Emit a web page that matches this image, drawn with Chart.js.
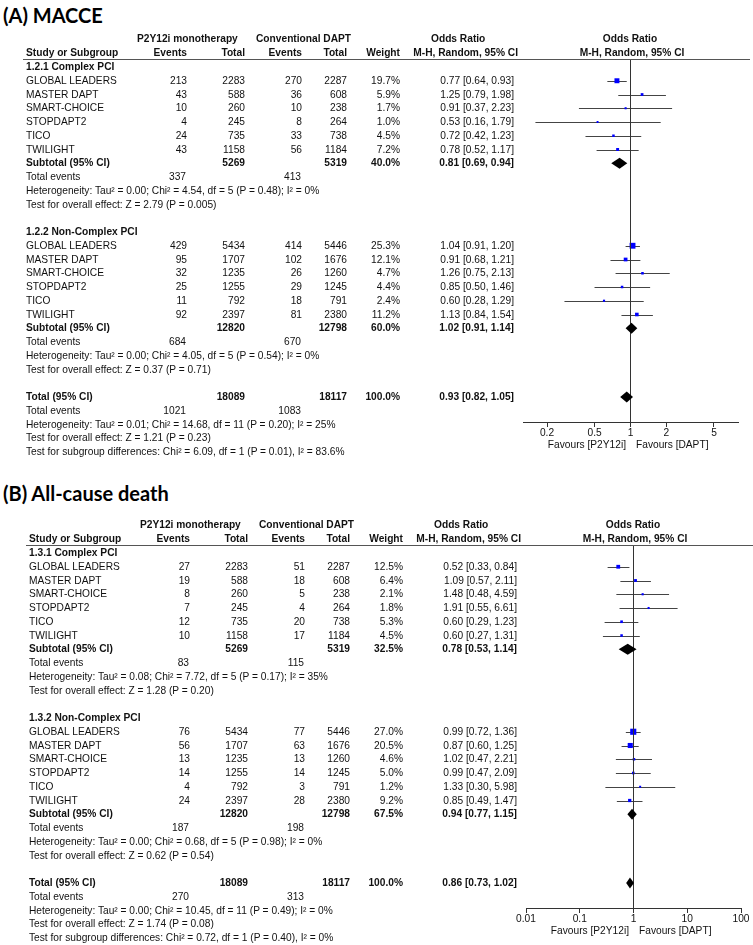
<!DOCTYPE html>
<html lang="en">
<head>
<meta charset="UTF-8">
<script src="https://cdn.jsdelivr.net/npm/chart.js"></script>
<title>Forest plots - MACCE and all-cause death</title>
<style>
  * { margin: 0; padding: 0; }
  body { width: 753px; height: 945px; background: #fff; position: relative; overflow: hidden;
         font-family: "Liberation Sans", Arial, sans-serif; color: #111; }
  .panel { position: absolute; left: 0; width: 753px; height: 470px; }
  .panel canvas { position: absolute; left: 0; top: 0; }
  .t { position: absolute; font-size: 10.2px; line-height: 12px; white-space: nowrap; }
  .b { font-weight: bold; }
  .ttl { position: absolute; left: 3px; font-family: Lato, "Open Sans", sans-serif; font-weight: bold;
         font-size: 20px; line-height: 24px; color: #000; white-space: nowrap; }
  .rule { position: absolute; left: 23px; width: 727px; height: 0; border-top: 1px solid #555; }
</style>
</head>
<body>
<div class="ttl" style="top:3px">(A) MACCE</div>
<div class="ttl" style="top:481px">(B) All-cause death</div>
<div class="panel" id="pA" style="top:0px"><canvas id="cA" width="753" height="470"></canvas></div>
<div class="panel" id="pB" style="top:486px;left:3px"><canvas id="cB" width="753" height="470"></canvas></div>

<script>
  const studies = ['GLOBAL LEADERS', 'MASTER DAPT', 'SMART-CHOICE', 'STOPDAPT2', 'TICO', 'TWILIGHT'];

  // (A) MACCE - first 6 entries complex PCI, last 6 non-complex PCI
  const macceGroups = ['1.2.1 Complex PCI', '1.2.2 Non-Complex PCI'];
  const macceEvMono = [213, 43, 10, 4, 24, 43, 429, 95, 32, 25, 11, 92];
  const macceTotMono = [2283, 588, 260, 245, 735, 1158, 5434, 1707, 1235, 1255, 792, 2397];
  const macceEvDapt = [270, 36, 10, 8, 33, 56, 414, 102, 26, 29, 18, 81];
  const macceTotDapt = [2287, 608, 238, 264, 738, 1184, 5446, 1676, 1260, 1245, 791, 2380];
  const macceWeight = [19.7, 5.9, 1.7, 1.0, 4.5, 7.2, 25.3, 12.1, 4.7, 4.4, 2.4, 11.2];
  const macceOR = [0.77, 1.25, 0.91, 0.53, 0.72, 0.78, 1.04, 0.91, 1.26, 0.85, 0.60, 1.13];
  const macceLo = [0.64, 0.79, 0.37, 0.16, 0.42, 0.52, 0.91, 0.68, 0.75, 0.50, 0.28, 0.84];
  const macceHi = [0.93, 1.98, 2.23, 1.79, 1.23, 1.17, 1.20, 1.21, 2.13, 1.46, 1.29, 1.54];
  // summaries: subgroup 1, subgroup 2, overall
  const macceSumTotMono = [5269, 12820, 18089];
  const macceSumTotDapt = [5319, 12798, 18117];
  const macceSumEvMono = [337, 684, 1021];
  const macceSumEvDapt = [413, 670, 1083];
  const macceSumWeight = [40.0, 60.0, 100.0];
  const macceSumOR = [0.81, 1.02, 0.93];
  const macceSumLo = [0.69, 0.91, 0.82];
  const macceSumHi = [0.94, 1.14, 1.05];
  const macceHet = ['Tau² = 0.00; Chi² = 4.54, df = 5 (P = 0.48); I² = 0%',
                    'Tau² = 0.00; Chi² = 4.05, df = 5 (P = 0.54); I² = 0%',
                    'Tau² = 0.01; Chi² = 14.68, df = 11 (P = 0.20); I² = 25%'];
  const macceZ = ['Z = 2.79 (P = 0.005)', 'Z = 0.37 (P = 0.71)', 'Z = 1.21 (P = 0.23)'];
  const macceSubDiff = 'Chi² = 6.09, df = 1 (P = 0.01), I² = 83.6%';
  const macceTicks = [0.2, 0.5, 1, 2, 5];

  // (B) All-cause death
  const deathGroups = ['1.3.1 Complex PCI', '1.3.2 Non-Complex PCI'];
  const deathEvMono = [27, 19, 8, 7, 12, 10, 76, 56, 13, 14, 4, 24];
  const deathTotMono = [2283, 588, 260, 245, 735, 1158, 5434, 1707, 1235, 1255, 792, 2397];
  const deathEvDapt = [51, 18, 5, 4, 20, 17, 77, 63, 13, 14, 3, 28];
  const deathTotDapt = [2287, 608, 238, 264, 738, 1184, 5446, 1676, 1260, 1245, 791, 2380];
  const deathWeight = [12.5, 6.4, 2.1, 1.8, 5.3, 4.5, 27.0, 20.5, 4.6, 5.0, 1.2, 9.2];
  const deathOR = [0.52, 1.09, 1.48, 1.91, 0.60, 0.60, 0.99, 0.87, 1.02, 0.99, 1.33, 0.85];
  const deathLo = [0.33, 0.57, 0.48, 0.55, 0.29, 0.27, 0.72, 0.60, 0.47, 0.47, 0.30, 0.49];
  const deathHi = [0.84, 2.11, 4.59, 6.61, 1.23, 1.31, 1.36, 1.25, 2.21, 2.09, 5.98, 1.47];
  const deathSumTotMono = [5269, 12820, 18089];
  const deathSumTotDapt = [5319, 12798, 18117];
  const deathSumEvMono = [83, 187, 270];
  const deathSumEvDapt = [115, 198, 313];
  const deathSumWeight = [32.5, 67.5, 100.0];
  const deathSumOR = [0.78, 0.94, 0.86];
  const deathSumLo = [0.53, 0.77, 0.73];
  const deathSumHi = [1.14, 1.15, 1.02];
  const deathHet = ['Tau² = 0.08; Chi² = 7.72, df = 5 (P = 0.17); I² = 35%',
                    'Tau² = 0.00; Chi² = 0.68, df = 5 (P = 0.98); I² = 0%',
                    'Tau² = 0.00; Chi² = 10.45, df = 11 (P = 0.49); I² = 0%'];
  const deathZ = ['Z = 1.28 (P = 0.20)', 'Z = 0.62 (P = 0.54)', 'Z = 1.74 (P = 0.08)'];
  const deathSubDiff = 'Chi² = 0.72, df = 1 (P = 0.40), I² = 0%';
  const deathTicks = [0.01, 0.1, 1, 10, 100];

  // layout (panel-local pixels)
  const ROW0 = 67, STEP = 13.75;
  const RULE_Y = 59, AXIS_Y = 422, AXIS_H = 24, CANVAS_H = 470;
  const PLOT_L = 523, PLOT_R = 738;
  const COL = { name: 26, ev1: 187, tot1: 245, ev2: 302, tot2: 347, wt: 400, or: 514 };

  function studyRow(i) { return i < 6 ? 1 + i : 7 + i; }
  const sumRow = [7, 19, 24];
  const groupRow = [0, 12];
  const rowY = r => ROW0 + r * STEP;

  function put(panel, text, x, y, align, bold) {
    const d = document.createElement('div');
    d.className = 't' + (bold ? ' b' : '');
    d.textContent = text;
    d.style.top = (y - 6) + 'px';
    if (align === 'right') {
      d.style.left = (x - 200) + 'px'; d.style.width = '200px'; d.style.textAlign = 'right';
    } else if (align === 'center') {
      d.style.left = (x - 100) + 'px'; d.style.width = '200px'; d.style.textAlign = 'center';
    } else {
      d.style.left = x + 'px';
    }
    panel.appendChild(d);
  }

  const fmtOR = (v, lo, hi) => v.toFixed(2) + ' [' + lo.toFixed(2) + ', ' + hi.toFixed(2) + ']';

  const forestMarks = {
    id: 'forestMarks',
    beforeDatasetsDraw(chart, args, o) {
      const { ctx, scales: { x, y } } = chart;
      ctx.save();
      ctx.strokeStyle = '#444';
      ctx.lineWidth = 1;
      o.lo.forEach((lo, i) => {
        const py = Math.round(y.getPixelForValue(studyRow(i))) + 0.5;
        ctx.beginPath();
        ctx.moveTo(x.getPixelForValue(lo), py);
        ctx.lineTo(x.getPixelForValue(o.hi[i]), py);
        ctx.stroke();
      });
      ctx.restore();
    },
    afterDatasetsDraw(chart, args, o) {
      const { ctx, scales: { x, y } } = chart;
      ctx.save();
      ctx.fillStyle = '#000';
      o.sumOR.forEach((v, k) => {
        const py = y.getPixelForValue(sumRow[k]);
        ctx.beginPath();
        ctx.moveTo(x.getPixelForValue(o.sumLo[k]), py);
        ctx.lineTo(x.getPixelForValue(v), py - 5.5);
        ctx.lineTo(x.getPixelForValue(o.sumHi[k]), py);
        ctx.lineTo(x.getPixelForValue(v), py + 5.5);
        ctx.closePath();
        ctx.fill();
      });
      ctx.restore();
    }
  };

  function drawPanel(panelId, canvasId, d) {
    const p = document.getElementById(panelId);

    // headers
    put(p, 'P2Y12i monotherapy', 137, 39, 'left', true);
    put(p, 'Conventional DAPT', 256, 39, 'left', true);
    put(p, 'Odds Ratio', 431, 39, 'left', true);
    put(p, 'Odds Ratio', 630, 39, 'center', true);
    put(p, 'Study or Subgroup', COL.name, 53, 'left', true);
    put(p, 'Events', COL.ev1, 53, 'right', true);
    put(p, 'Total', COL.tot1, 53, 'right', true);
    put(p, 'Events', COL.ev2, 53, 'right', true);
    put(p, 'Total', COL.tot2, 53, 'right', true);
    put(p, 'Weight', COL.wt, 53, 'right', true);
    put(p, 'M-H, Random, 95% CI', 518, 53, 'right', true);
    put(p, 'M-H, Random, 95% CI', 632, 53, 'center', true);
    const rule = document.createElement('div');
    rule.className = 'rule';
    rule.style.top = RULE_Y + 'px';
    p.appendChild(rule);

    // study rows
    d.or.forEach((v, i) => {
      const y = rowY(studyRow(i));
      put(p, studies[i % 6], COL.name, y, 'left');
      put(p, String(d.evMono[i]), COL.ev1, y, 'right');
      put(p, String(d.totMono[i]), COL.tot1, y, 'right');
      put(p, String(d.evDapt[i]), COL.ev2, y, 'right');
      put(p, String(d.totDapt[i]), COL.tot2, y, 'right');
      put(p, d.weight[i].toFixed(1) + '%', COL.wt, y, 'right');
      put(p, fmtOR(v, d.lo[i], d.hi[i]), COL.or, y, 'right');
    });

    // subgroup headers and summaries
    d.groups.forEach((g, k) => put(p, g, COL.name, rowY(groupRow[k]), 'left', true));
    d.sumOR.forEach((v, k) => {
      const r = sumRow[k];
      put(p, k < 2 ? 'Subtotal (95% CI)' : 'Total (95% CI)', COL.name, rowY(r), 'left', true);
      put(p, String(d.sumTotMono[k]), COL.tot1, rowY(r), 'right', true);
      put(p, String(d.sumTotDapt[k]), COL.tot2, rowY(r), 'right', true);
      put(p, d.sumWeight[k].toFixed(1) + '%', COL.wt, rowY(r), 'right', true);
      put(p, fmtOR(v, d.sumLo[k], d.sumHi[k]), COL.or, rowY(r), 'right', true);
      put(p, 'Total events', COL.name, rowY(r + 1), 'left');
      put(p, String(d.sumEvMono[k]), 186, rowY(r + 1), 'right');
      put(p, String(d.sumEvDapt[k]), 301, rowY(r + 1), 'right');
      put(p, 'Heterogeneity: ' + d.het[k], COL.name, rowY(r + 2), 'left');
      put(p, 'Test for overall effect: ' + d.z[k], COL.name, rowY(r + 3), 'left');
    });
    put(p, 'Test for subgroup differences: ' + d.subDiff, COL.name, rowY(28), 'left');

    // favours labels under the axis
    put(p, 'Favours [P2Y12i]', 626, 445, 'right');
    put(p, 'Favours [DAPT]', 636, 445, 'left');

    const yMin = (RULE_Y - ROW0) / STEP;
    const yMax = (AXIS_Y - ROW0) / STEP;

    new Chart(document.getElementById(canvasId), {
      type: 'scatter',
      data: {
        datasets: [
          {
            type: 'line',
            data: [{ x: 1, y: yMin }, { x: 1, y: yMax }],
            borderColor: '#333',
            borderWidth: 1,
            pointRadius: 0
          },
          {
            data: d.or.map((v, i) => ({ x: v, y: studyRow(i) })),
            pointStyle: 'rect',
            pointRadius: d.weight.map(w => (1.8 + w * 0.16) / Math.SQRT2),
            backgroundColor: '#0000ff',
            borderWidth: 0
          }
        ]
      },
      options: {
        responsive: false,
        animation: false,
        devicePixelRatio: 1,
        layout: { padding: { left: PLOT_L, right: 753 - PLOT_R, top: RULE_Y, bottom: CANVAS_H - AXIS_Y - AXIS_H } },
        plugins: {
          legend: { display: false },
          tooltip: { enabled: false },
          forestMarks: { lo: d.lo, hi: d.hi, sumOR: d.sumOR, sumLo: d.sumLo, sumHi: d.sumHi }
        },
        scales: {
          x: {
            type: 'logarithmic',
            min: d.xMin,
            max: d.xMax,
            afterBuildTicks: s => { s.ticks = d.ticks.map(v => ({ value: v })); },
            afterFit: s => { s.height = AXIS_H; },
            ticks: {
              callback: v => String(v),
              autoSkip: false,
              maxRotation: 0,
              padding: 0,
              color: '#111',
              font: { family: 'Liberation Sans', size: 10.2 }
            },
            grid: { drawOnChartArea: false, drawTicks: true, tickLength: 5, color: '#333' },
            border: { color: '#333', width: 1 }
          },
          y: { type: 'linear', display: false, reverse: true, min: yMin, max: yMax }
        }
      },
      plugins: [forestMarks]
    });
  }

  drawPanel('pA', 'cA', {
    groups: macceGroups, evMono: macceEvMono, totMono: macceTotMono, evDapt: macceEvDapt, totDapt: macceTotDapt,
    weight: macceWeight, or: macceOR, lo: macceLo, hi: macceHi,
    sumTotMono: macceSumTotMono, sumTotDapt: macceSumTotDapt, sumEvMono: macceSumEvMono, sumEvDapt: macceSumEvDapt,
    sumWeight: macceSumWeight, sumOR: macceSumOR, sumLo: macceSumLo, sumHi: macceSumHi,
    het: macceHet, z: macceZ, subDiff: macceSubDiff, ticks: macceTicks,
    xMin: Math.pow(10, -0.9), xMax: Math.pow(10, 0.9)
  });

  drawPanel('pB', 'cB', {
    groups: deathGroups, evMono: deathEvMono, totMono: deathTotMono, evDapt: deathEvDapt, totDapt: deathTotDapt,
    weight: deathWeight, or: deathOR, lo: deathLo, hi: deathHi,
    sumTotMono: deathSumTotMono, sumTotDapt: deathSumTotDapt, sumEvMono: deathSumEvMono, sumEvDapt: deathSumEvDapt,
    sumWeight: deathSumWeight, sumOR: deathSumOR, sumLo: deathSumLo, sumHi: deathSumHi,
    het: deathHet, z: deathZ, subDiff: deathSubDiff, ticks: deathTicks,
    xMin: 0.01, xMax: 100
  });
</script>
</body>
</html>
